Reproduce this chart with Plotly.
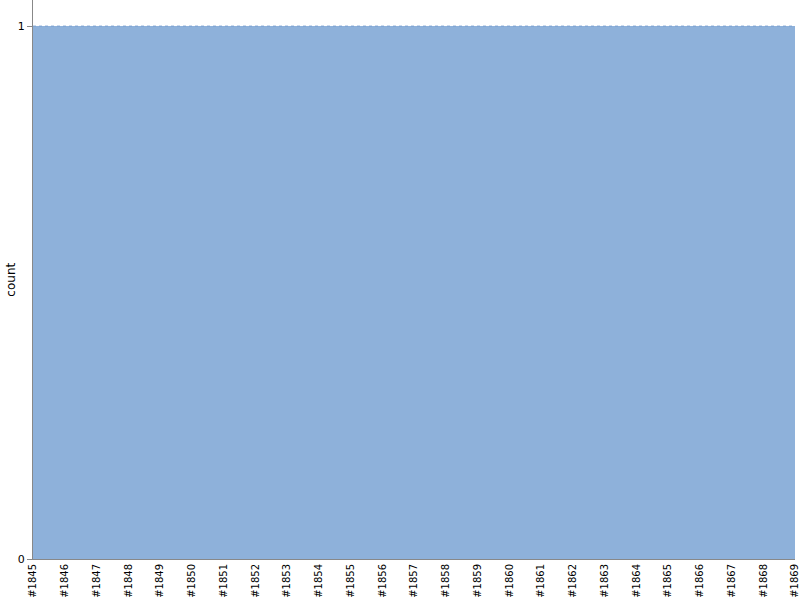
import plotly.graph_objects as go

years = list(range(1845, 1870))
labels = ["#%d" % y for y in years]
counts = [1] * len(years)

fig = go.Figure()
fig.add_trace(go.Scatter(
    x=years, y=counts, mode="lines", fill="tozeroy",
    fillcolor="#8eb1da",
    line=dict(color="#7a9fd0", width=1, dash="dot"),
    hoverinfo="skip", showlegend=False,
))
fig.update_layout(
    width=800, height=600,
    margin=dict(l=33, r=5, t=0, b=41, autoexpand=False),
    paper_bgcolor="white", plot_bgcolor="white",
    font=dict(family="DejaVu Sans", size=10, color="black"),
    showlegend=False,
)
fig.update_xaxes(
    range=[years[0], years[-1]], tickvals=years, ticktext=labels,
    tickangle=-90, showgrid=False, zeroline=False,
    showline=True, linecolor="#888888", linewidth=1,
    ticks="", automargin=False, ticklabeloverflow="allow",
    tickfont=dict(family="DejaVu Sans", size=10),
)
fig.update_yaxes(
    range=[0, 1.049], tickvals=[0, 1], showgrid=False, zeroline=False,
    showline=True, linecolor="#888888", linewidth=1,
    ticks="outside", ticklen=5, tickcolor="#888888",
    tickfont=dict(family="DejaVu Sans", size=11),
    automargin=False,
)
fig.add_annotation(
    text="count", xref="paper", yref="paper", x=-0.030, y=0.5,
    xanchor="center", yanchor="middle", textangle=-90, showarrow=False,
    font=dict(family="DejaVu Sans", size=12, color="black"),
)
fig.write_html(
    "out.html",
    config={"displayModeBar": False},
    post_script="document.body.style.margin='0';document.body.style.overflow='hidden';",
)
